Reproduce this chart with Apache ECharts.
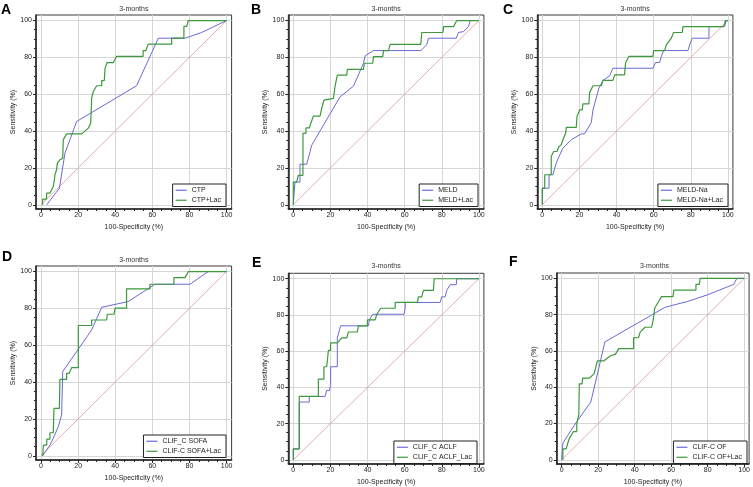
<!DOCTYPE html>
<html><head><meta charset="utf-8">
<script src="https://cdn.jsdelivr.net/npm/echarts@6/dist/echarts.min.js"></script>
<style>html,body{margin:0;padding:0;background:#fff}#c{width:753px;height:487px}</style>
</head><body><div id="c"></div>
<script>
// ---- data ----
const majorTicks = [0, 20, 40, 60, 80, 100];
const minorTicks = [0,5,10,15,20,25,30,35,40,45,50,55,60,65,70,75,80,85,90,95,100];
const panelLetters = ['A','B','C','D','E','F'];
const panelTitles = ['3-months','3-months','3-months','3-months','3-months','3-months'];
const seriesNames = [
  ['CTP','CTP+Lac'],
  ['MELD','MELD+Lac'],
  ['MELD-Na','MELD-Na+Lac'],
  ['CLIF_C SOFA','CLIF-C SOFA+Lac'],
  ['CLIF_C ACLF','CLIF_C ACLF_Lac'],
  ['CLIF-C OF','CLIF-C OF+Lac']
];
const diagonal = [[0,0],[100,100]];

const ctp = [[3.1,0],[9.9,9],[12.9,28],[19.2,45.2],[51.5,64.6],[63.2,90.4],[77.6,90.4],[86.5,93.5],[100,100]];
const ctpLac = [[0.9,0],[0.9,3.1],[3,3.1],[3,6.3],[4.8,6.3],[6.6,10],[7.2,13.6],[7.5,16.3],[8.4,19],[8.8,22.6],[10.2,24.4],[11.7,25.3],[12,35.3],[12.9,35.3],[13.8,38.5],[21.9,38.5],[25.5,41.6],[26.8,44.3],[27.3,45],[27.3,58],[28.2,61.5],[30,64.6],[32.7,64.6],[32.7,67.4],[34.1,67.4],[34.5,74],[35.6,77.2],[39,77.2],[40.7,80.5],[55,80.5],[55,83.7],[56.5,83.7],[57.8,87.2],[70.4,87.2],[70.4,90.4],[77,90.4],[77,96.8],[78.5,96.8],[79.4,100],[100,100]];

const meld = [[0,0],[0.9,12.3],[3.6,12.3],[3.6,22],[7.2,22],[9,28.7],[9.9,32.3],[15.3,41.6],[25.2,58.6],[32.4,64.4],[37.8,76.8],[38.7,80.8],[43.2,83.7],[68.7,83.7],[71.9,86.8],[72.8,90.4],[87.8,90.4],[89,93.5],[91.7,94],[94.4,96.7],[95.3,100],[100,100]];
const meldLac = [[0,0],[0,12.3],[1.8,12.3],[2.7,16],[5.2,16],[5.2,38.7],[6.8,38.7],[6.8,41.7],[8.6,41.7],[10.8,48.1],[14.4,48.1],[15.3,52.3],[16.5,56.8],[16.5,57.7],[21.6,57.7],[22.5,64.4],[23.7,70.4],[28.8,70.4],[29.1,73.5],[37.8,73.5],[38.3,76.8],[42.8,76.8],[43.2,80.4],[48.2,80.4],[48.6,83.7],[51.3,83.7],[52.2,87.1],[68.7,87.1],[69.2,93.5],[80.6,93.5],[81,96.7],[86.3,96.7],[88.1,100],[100,100]];

const meldNa = [[0,0],[0,9],[3.6,9],[3.6,16.3],[5.7,16.3],[7.5,22.6],[9,26.2],[11.1,30.7],[15.6,35.3],[21,38.5],[22.8,38.5],[26.4,44.7],[27.3,51.5],[30.5,63.3],[32.7,67.5],[36.3,70],[38,74.1],[59.6,74.1],[61,77.2],[63.2,77.2],[64.1,80.5],[65.4,83.7],[78.5,83.7],[79.4,86.8],[80.8,90.4],[89.8,90.4],[89.8,96.7],[98.2,96.7],[99,100],[100,100]];
const meldNaLac = [[0,0],[0,9],[1.3,9],[1.3,16.3],[4.8,16.3],[4.8,26.2],[6.1,28.9],[7.9,28.9],[9,31.6],[10.2,32.5],[11.1,35.3],[12.6,38.9],[12.9,42],[18.3,42],[18.7,47.9],[20.1,51.5],[21.5,51.5],[21.9,54.8],[25.1,54.8],[25.5,61],[27.3,64.6],[31.8,64.6],[32.7,67.5],[38,67.5],[39,70.5],[44.3,70.5],[44.9,77.2],[46.7,80.5],[59.6,80.5],[60,83.7],[65.9,83.7],[66.8,86.8],[69.5,90.4],[70.7,93.5],[75.4,93.5],[75.8,96.7],[97.7,96.7],[98.7,100],[100,100]];

const sofa = [[0.9,0],[4.8,5.8],[6.6,9.4],[9.3,15.8],[11.1,22.1],[11.7,45.7],[27.3,68.3],[32.7,80.6],[47,83.7],[61.4,93.1],[80.3,93.1],[90.1,100],[100,100]];
const sofaLac = [[0.9,0],[1.3,5.8],[3.1,5.8],[3.1,9],[4.8,9],[4.8,12.5],[6.6,12.5],[7,25.7],[9.9,25.7],[10.2,41.5],[13.8,41.5],[13.8,44.7],[15.1,44.7],[16.5,47.8],[20.1,47.8],[20.1,70.7],[27.3,70.7],[27.3,73.7],[35.4,73.7],[35.7,76.8],[39.3,76.8],[39.9,80.1],[46.1,80.1],[46.1,90.6],[58.7,90.6],[58.7,93.1],[71.6,93.1],[71.6,96.7],[77.6,96.7],[79.4,100],[100,100]];

const aclf = [[0,0],[0,6],[3.2,6],[3.2,31.9],[8.6,31.9],[8.6,35],[17.1,35],[18,38.3],[19.4,38.3],[20.1,41],[20.1,51.4],[23.7,51.4],[23.7,67.3],[25.5,74],[40.5,74],[41,77.3],[42.8,80.4],[59.7,80.4],[60.3,83.7],[60.3,86.9],[79.1,86.9],[80,90],[81.8,90],[82.7,93.6],[84.5,96.7],[87.8,96.7],[88.1,100],[100,100]];
const aclfLac = [[0,0],[0,6],[3.2,6],[3.2,35],[13.5,35],[13.5,44.6],[16.5,44.6],[16.5,51.4],[18,51.4],[18.9,60.4],[20.1,60.4],[20.1,64.6],[23.7,64.6],[26.1,67.3],[28.8,67.3],[29.7,70.6],[34.5,70.6],[35.1,74],[39.9,74],[40,77.3],[44.1,77.3],[45,80.4],[47.1,83.7],[54.9,83.7],[54.9,86.9],[66.9,86.9],[67.4,90],[69.2,90],[70.1,93.6],[75.5,93.6],[75.9,100],[100,100]];

const of = [[0,0],[0.7,9.3],[7.9,20.5],[16,31.9],[23.7,65],[56.5,84],[60,85],[69,87.3],[80,91],[94.2,96.7],[96,100],[100,100]];
const ofLac = [[0.7,0],[0.7,6],[2.5,6],[3.4,9.3],[4.3,12],[6.5,15.6],[8.3,15.6],[8.3,20.1],[9.4,24.7],[9.7,41.9],[11.2,41.9],[11.5,45],[15.1,45],[17.8,47.4],[18.7,51],[19.6,54.6],[23.2,54.6],[26.8,57.4],[29.5,58.3],[31.3,61.3],[39.4,61.3],[39.4,67.3],[42.1,67.3],[43,70.4],[45.7,73.1],[49.3,73.1],[50.2,77.3],[51,83.7],[52.9,86.9],[54.7,90],[61,90],[61.5,93.6],[73.6,93.6],[73.6,96.7],[75.4,96.7],[75.9,100],[100,100]];

const curves = [[ctp, ctpLac],[meld, meldLac],[meldNa, meldNaLac],[sofa, sofaLac],[aclf, aclfLac],[of, ofLac]];

// ---- layout ----
const FONT = '"Liberation Sans", Arial, sans-serif';
const boxes = [
  {l:36, t:15}, {l:288.3, t:15}, {l:537.3, t:15},
  {l:36, t:266}, {l:288.3, t:273.3}, {l:556.7, t:273}
];
const BW = 195.6, BH = 194;
const letterPos = [[1,3.5],[251,3.5],[503,3.5],[2,250.5],[252,256.5],[509,255.5]];
const titleTop = [5.5,5.5,5.5,256.5,262.5,262.5];
const legendPos = [
  {right:527, top:184}, {right:275, top:184}, {right:25, top:184},
  {right:527, top:435}, {right:276, top:441}, {right:6, top:441}
];
const XMIN=-2.7, XMAX=102.7, YMIN=-2.3, YMAX=103;
const BLUE='#6a6ad8', GREEN='#3c993c', DIAG='#dc9a9a';

const grid=[], xAxis=[], yAxis=[], series=[], legend=[], title=[];
boxes.forEach((b,i)=>{
  grid.push({left:b.l, top:b.t, width:BW, height:BH, show:true, borderColor:'#3a3a3a', borderWidth:1, backgroundColor:'#fff'});
  xAxis.push({type:'value', gridIndex:i, min:XMIN, max:XMAX, position:'bottom',
    axisLine:{show:true, onZero:false, lineStyle:{color:'#222', width:1.5}},
    axisTick:{show:true, customValues:majorTicks, length:3, lineStyle:{color:'#222', width:1}},
    axisLabel:{customValues:majorTicks, fontSize:7, color:'#222', margin:3, fontFamily:FONT},
    splitLine:{show:true, lineStyle:{color:'#d6d6d6', width:1}},
    name:'100-Specificity (%)', nameLocation:'middle', nameGap:15,
    nameTextStyle:{fontSize:7, color:'#222', fontFamily:FONT}});
  xAxis.push({type:'value', gridIndex:i, min:XMIN, max:XMAX, position:'bottom',
    axisLine:{show:false, onZero:false},
    axisTick:{show:true, customValues:minorTicks, length:2, lineStyle:{color:'#222', width:1}},
    axisLabel:{show:false}, splitLine:{show:false}});
  yAxis.push({type:'value', gridIndex:i, min:YMIN, max:YMAX, position:'left',
    axisLine:{show:true, onZero:false, lineStyle:{color:'#222', width:1.5}},
    axisTick:{show:true, customValues:majorTicks, length:3, lineStyle:{color:'#222', width:1}},
    axisLabel:{customValues:majorTicks, fontSize:7, color:'#222', margin:4, fontFamily:FONT},
    splitLine:{show:true, lineStyle:{color:'#d6d6d6', width:1}},
    name:'Sensitivity (%)', nameLocation:'middle', nameGap:17,
    nameTextStyle:{fontSize:7, color:'#222', fontFamily:FONT}});
  yAxis.push({type:'value', gridIndex:i, min:YMIN, max:YMAX, position:'left',
    axisLine:{show:false, onZero:false},
    axisTick:{show:true, customValues:minorTicks, length:2, lineStyle:{color:'#222', width:1}},
    axisLabel:{show:false}, splitLine:{show:false}});

  const common = {type:'line', xAxisIndex:2*i, yAxisIndex:2*i, symbol:'none', showSymbol:false, animation:false, silent:true};
  series.push(Object.assign({}, common, {name:'diag'+i, data:diagonal, lineStyle:{color:DIAG, width:0.8}}));
  series.push(Object.assign({}, common, {name:seriesNames[i][0], data:curves[i][0], color:BLUE, lineStyle:{color:BLUE, width:1}}));
  series.push(Object.assign({}, common, {name:seriesNames[i][1], data:curves[i][1], color:GREEN, lineStyle:{color:GREEN, width:1.2}}));

  legend.push({data:seriesNames[i], orient:'vertical', right:legendPos[i].right, top:legendPos[i].top,
    icon:'rect', itemWidth:11, itemHeight:1.2, itemGap:1.5, padding:[2,5,2,3], borderColor:'#222', borderWidth:1,
    backgroundColor:'#fff', selectedMode:false, textStyle:{fontSize:7, color:'#222', fontFamily:FONT, lineHeight:8.5}});

  const cx = b.l + BW/2;
  title.push({text:panelTitles[i], left:cx-14.6, top:titleTop[i], padding:0,
    textStyle:{fontSize:7, fontWeight:'normal', color:'#333', fontFamily:FONT}});
  title.push({text:panelLetters[i], left:letterPos[i][0], top:letterPos[i][1], padding:0,
    textStyle:{fontSize:14, fontWeight:'bold', color:'#000', fontFamily:FONT}});
});

const chart = echarts.init(document.getElementById('c'), null, {renderer:'canvas'});
chart.setOption({animation:false, backgroundColor:'#fff', grid, xAxis, yAxis, series, legend, title});
</script></body></html>
